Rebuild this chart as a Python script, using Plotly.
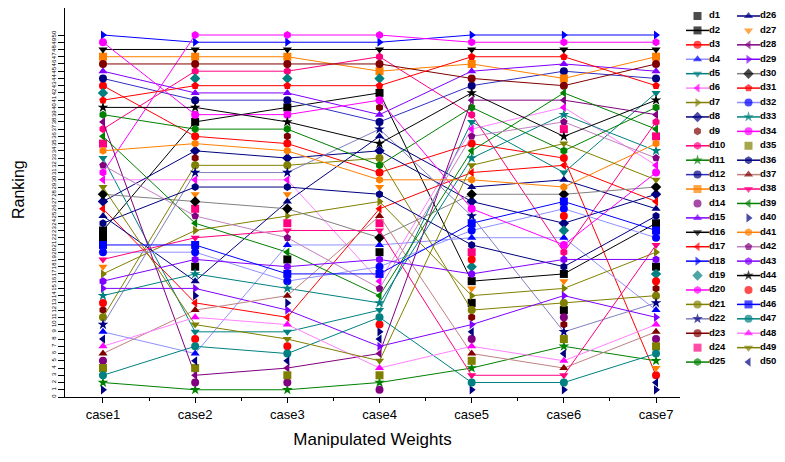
import plotly.graph_objects as go

# ---------------- data ----------------
cases = ["case1", "case2", "case3", "case4", "case5", "case6", "case7"]
case_pos = [1, 2, 3, 4, 5, 6, 7]
series = ["d%d" % i for i in range(1, 51)]
rank_ticks = list(range(0, 51))

# ranking order in each case, listed from rank 50 (top) down to rank 1 (bottom)
order_case1 = ["d18", "d34", "d16", "d13", "d23", "d15", "d12", "d3", "d19", "d31",
               "d44", "d25", "d28", "d10", "d39", "d24", "d41", "d5", "d42", "d20",
               "d6", "d49", "d30", "d8", "d17", "d26", "d36", "d2", "d1", "d46",
               "d32", "d38", "d27", "d7", "d43", "d29", "d33", "d45", "d9", "d21",
               "d22", "d4", "d50", "d48", "d37", "d14", "d35", "d47", "d11", "d40"]
order_case2 = ["d20", "d18", "d16", "d13", "d23", "d10", "d19", "d31", "d15", "d12",
               "d44", "d34", "d2", "d25", "d3", "d41", "d8", "d9", "d21", "d22",
               "d6", "d36", "d27", "d30", "d24", "d42", "d39", "d7", "d38", "d46",
               "d32", "d43", "d1", "d33", "d26", "d29", "d40", "d17", "d37", "d48",
               "d49", "d5", "d45", "d47", "d4", "d50", "d35", "d28", "d14", "d11"]
order_case3 = ["d20", "d18", "d16", "d13", "d23", "d10", "d19", "d31", "d15", "d12",
               "d2", "d34", "d44", "d25", "d9", "d3", "d41", "d8", "d21", "d22",
               "d6", "d36", "d27", "d26", "d30", "d7", "d24", "d38", "d42", "d4",
               "d39", "d1", "d43", "d46", "d32", "d33", "d37", "d40", "d29", "d17",
               "d48", "d5", "d49", "d45", "d47", "d50", "d28", "d35", "d14", "d11"]
order_case4 = ["d20", "d18", "d16", "d10", "d23", "d13", "d19", "d31", "d2", "d34",
               "d9", "d15", "d12", "d22", "d26", "d44", "d8", "d21", "d25", "d3",
               "d41", "d27", "d36", "d7", "d17", "d37", "d24", "d38", "d30", "d4",
               "d1", "d43", "d32", "d46", "d6", "d42", "d39", "d33", "d5", "d47",
               "d45", "d40", "d50", "d29", "d28", "d49", "d48", "d35", "d11", "d14"]
order_case5 = ["d18", "d20", "d16", "d31", "d13", "d15", "d23", "d12", "d44", "d28",
               "d25", "d10", "d5", "d6", "d42", "d3", "d39", "d33", "d49", "d17",
               "d41", "d26", "d30", "d8", "d34", "d22", "d46", "d32", "d4", "d36",
               "d24", "d45", "d19", "d43", "d2", "d27", "d7", "d1", "d21", "d9",
               "d29", "d50", "d14", "d48", "d37", "d35", "d11", "d38", "d47", "d40"]
order_case6 = ["d18", "d20", "d16", "d31", "d15", "d12", "d13", "d23", "d39", "d28",
               "d6", "d33", "d42", "d24", "d44", "d49", "d25", "d3", "d17", "d5",
               "d26", "d41", "d30", "d46", "d32", "d45", "d8", "d19", "d4", "d34",
               "d10", "d43", "d36", "d2", "d27", "d7", "d29", "d21", "d1", "d14",
               "d9", "d22", "d35", "d11", "d50", "d48", "d37", "d38", "d47", "d40"]
order_case7 = ["d18", "d20", "d16", "d13", "d23", "d15", "d12", "d31", "d5", "d44",
               "d25", "d28", "d10", "d39", "d24", "d41", "d33", "d42", "d6", "d34",
               "d49", "d30", "d8", "d17", "d26", "d36", "d2", "d46", "d32", "d38",
               "d7", "d43", "d1", "d19", "d45", "d9", "d21", "d22", "d4", "d29",
               "d48", "d37", "d14", "d35", "d47", "d11", "d27", "d3", "d50", "d40"]

orders = [order_case1, order_case2, order_case3, order_case4,
          order_case5, order_case6, order_case7]
for o in orders:
    assert sorted(o) == sorted(series), o

# ---------------- styles ----------------
BLACK, RED, BLUE, TEAL, MAG, OLIVE = "#000000", "#FF0000", "#0000FF", "#008080", "#FF00FF", "#808000"
NAVY, WINE, PINK, GREEN, ORANGE, PURPLE, VIOLET = "#000080", "#800000", "#FF0080", "#008000", "#FF8000", "#800080", "#8000FF"

# (marker colour, symbol, line colour or None)
style = {
    "d1": (BLACK, "square", None), "d2": (BLACK, "square", BLACK),
    "d3": (RED, "circle", RED), "d4": (BLUE, "triangle-up", "#9090FF"),
    "d5": (TEAL, "triangle-down", TEAL), "d6": (MAG, "triangle-left", "#FF80FF"),
    "d7": (OLIVE, "triangle-right", OLIVE), "d8": (NAVY, "diamond", NAVY),
    "d9": (WINE, "hexagon", None), "d10": (PINK, "hexagon", PINK),
    "d11": (GREEN, "star", GREEN), "d12": (NAVY, "circle", "#3030C0"),
    "d13": (ORANGE, "square", ORANGE), "d14": (PURPLE, "circle", None),
    "d15": (VIOLET, "triangle-up", VIOLET), "d16": (BLACK, "triangle-down", BLACK),
    "d17": (RED, "triangle-left", RED), "d18": (BLUE, "triangle-right", BLUE),
    "d19": (TEAL, "diamond", None), "d20": (MAG, "hexagon", MAG),
    "d21": (OLIVE, "circle", OLIVE), "d22": (NAVY, "star", "#8080C0"),
    "d23": (WINE, "circle", WINE), "d24": (PINK, "square", None),
    "d25": (GREEN, "hexagon", GREEN), "d26": (NAVY, "triangle-up", NAVY),
    "d27": (ORANGE, "triangle-down", None), "d28": (PURPLE, "triangle-left", PURPLE),
    "d29": (VIOLET, "triangle-right", VIOLET), "d30": (BLACK, "diamond", "#808080"),
    "d31": (RED, "pentagon", RED), "d32": (BLUE, "circle", "#9090FF"),
    "d33": (TEAL, "star", TEAL), "d34": (MAG, "circle", MAG),
    "d35": (OLIVE, "square", None), "d36": (NAVY, "hexagon", NAVY),
    "d37": (WINE, "triangle-up", "#C08080"), "d38": (PINK, "triangle-down", PINK),
    "d39": (GREEN, "triangle-left", GREEN), "d40": (NAVY, "triangle-right", None),
    "d41": (ORANGE, "hexagon", ORANGE), "d42": (PURPLE, "pentagon", "#C080C0"),
    "d43": (VIOLET, "hexagon", VIOLET), "d44": (BLACK, "star", BLACK),
    "d45": (RED, "circle", None), "d46": (BLUE, "square", BLUE),
    "d47": (TEAL, "circle", TEAL), "d48": (MAG, "triangle-up", "#FF80FF"),
    "d49": (OLIVE, "triangle-down", OLIVE), "d50": (NAVY, "triangle-left", None),
}

FONT = "Liberation Sans, Arial, sans-serif"
# the page body adds an 8 px margin, so the figure is 8 px smaller than the window
OFF = 8
W, H = 785 - OFF, 462 - OFF

fig = go.Figure()

for s in series:
    ranks = [len(o) - o.index(s) for o in orders]
    mc, sym, lc = style[s]
    fig.add_trace(go.Scatter(
        x=case_pos, y=ranks, name=s,
        mode="lines+markers" if lc else "markers",
        marker=dict(color=mc, symbol=sym, size=8, line=dict(width=0)),
        line=dict(color=lc if lc else mc, width=1),
        showlegend=False, cliponaxis=False,
    ))

# ---------------- custom two-column legend (drawn in its own axes) ----------------
col_x = [678, 729]          # left edge of legend sample, per column (figure px)
sample_w = 23
row_top, row_step = 16 - OFF, 14.42
for i, s in enumerate(series):
    col, row = divmod(i, 25)
    mc, sym, lc = style[s]
    x0 = col_x[col]
    fig.add_trace(go.Scatter(
        x=[x0, x0 + sample_w / 2, x0 + sample_w], y=[row, row, row],
        xaxis="x2", yaxis="y2",
        mode=("lines+markers+text" if lc else "markers+text"),
        marker=dict(color=mc, symbol=sym, size=[0, 8, 0], line=dict(width=0)),
        line=dict(color=lc if lc else mc, width=1.5),
        text=["", "", s], textposition="middle right",
        textfont=dict(family=FONT, size=9.5, color="#000000", weight="bold"),
        showlegend=False, cliponaxis=False, hoverinfo="skip",
    ))

x_left, x_right = 65 - OFF, 680 - OFF
y_bottom = 397 - OFF
fig.update_layout(
    width=W, height=H,
    margin=dict(l=0, r=0, t=0, b=0),
    paper_bgcolor="white", plot_bgcolor="rgba(0,0,0,0)",
    font=dict(family=FONT, color="black"),
    showlegend=False,
    xaxis=dict(
        domain=[x_left / W, x_right / W],
        range=[0.588, 7.26],
        tickmode="array", tickvals=case_pos, ticktext=cases,
        tickfont=dict(size=13), ticks="outside", ticklen=5, tickcolor="black",
        minor=dict(dtick=0.5, tick0=0.5, ticks="outside", ticklen=3, tickcolor="black"),
        showline=True, linecolor="black", linewidth=1, showgrid=False, zeroline=False,
        title=dict(text="Manipulated Weights", font=dict(size=17), standoff=12),
        automargin=False, anchor="y",
    ),
    yaxis=dict(
        domain=[(H - y_bottom) / H, 1],
        range=[0, y_bottom / 7.24],
        tickmode="array", tickvals=rank_ticks,
        tickfont=dict(size=6), tickangle=-90,
        ticks="outside", ticklen=6, tickcolor="black",
        showline=True, linecolor="black", linewidth=1, showgrid=False, zeroline=False,
        automargin=False, anchor="x",
    ),
    xaxis2=dict(domain=[x_right / W, 1], range=[x_right, W], visible=False,
                fixedrange=True, anchor="y2"),
    yaxis2=dict(domain=[0, 1],
                range=[(H - row_top) / row_step, -row_top / row_step],
                visible=False, fixedrange=True, anchor="x2"),
    annotations=[dict(
        text="Ranking", xref="paper", yref="paper",
        x=(18 - OFF) / W, y=1 - (190 - OFF) / H,
        textangle=-90, showarrow=False, font=dict(size=16),
        xanchor="center", yanchor="middle",
    )],
)

fig.write_html("out.html")
